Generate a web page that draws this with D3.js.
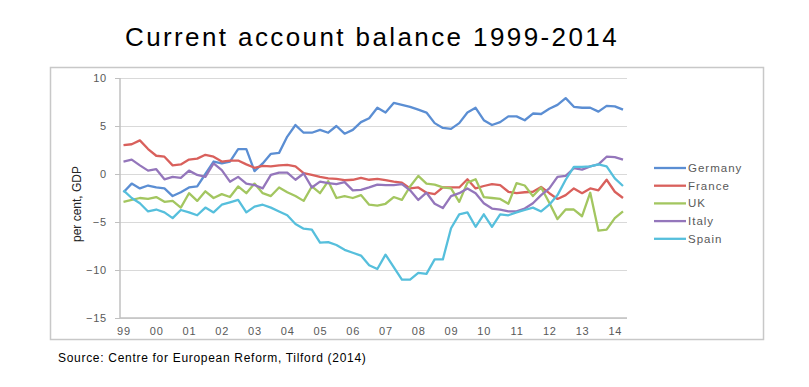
<!DOCTYPE html>
<html lang="en">
<head>
    <meta charset="UTF-8">
    <title>Current account balance 1999-2014</title>
    <style>
        body {
            margin: 0;
            padding: 0;
            background: #fff;
        }

        svg text {
            font-family: "Liberation Sans", Arial, sans-serif;
        }

        .grid line {
            stroke: #d9d9d9;
            stroke-width: 1;
        }

        .grid .domain {
            display: none;
        }

        .axis text {
            fill: #595959;
            font-size: 11px;
            letter-spacing: 0.8px;
        }

        .axis .domain {
            display: none;
        }

        .series {
            fill: none;
            stroke-width: 2.3;
            stroke-linejoin: round;
        }
    </style>
</head>
<body>
    <script src="https://d3js.org/d3.v7.min.js"></script>
    <script>
        // year labels on the x axis, data is quarterly 1999Q1 - 2014Q2
        const years = ["99", "00", "01", "02", "03", "04", "05", "06", "07", "08", "09", "10", "11", "12", "13", "14"];
        const quarters = [];
        years.forEach(yr => ["Q1", "Q2", "Q3", "Q4"].forEach(q => quarters.push(yr + q)));
        quarters.splice(62); // stops at 14Q2

        const yTicks = [-15, -10, -5, 0, 5, 10];

        // per cent of GDP
        const germany = [-1.9, -1.0, -1.5, -1.2, -1.4, -1.5, -2.3, -1.9, -1.4, -1.3,
            0.0, 1.3, 1.1, 1.3, 2.6, 2.6, 0.3, 1.1, 2.1, 2.2,
            3.9, 5.1, 4.3, 4.3, 4.6, 4.3, 5.0, 4.2, 4.6, 5.4,
            5.8, 6.9, 6.4, 7.4, 7.2, 7.0, 6.7, 6.4, 5.3, 4.8,
            4.7, 5.3, 6.4, 6.9, 5.6, 5.1, 5.4, 6.0, 6.0, 5.6,
            6.3, 6.25, 6.8, 7.2, 7.9, 7.0, 6.9, 6.9, 6.5, 7.1,
            7.05, 6.7];
        const france = [3.0, 3.1, 3.5, 2.6, 1.9, 1.8, 0.9, 1.0, 1.5, 1.6,
            2.0, 1.8, 1.3, 1.4, 1.4, 1.0, 0.65, 0.85, 0.8, 0.9,
            0.95, 0.8, 0.1, -0.1, -0.3, -0.45, -0.5, -0.65, -0.6, -0.4,
            -0.6, -0.5, -0.65, -0.8, -0.9, -1.5, -1.4, -1.95, -2.1, -1.4,
            -1.4, -1.4, -0.55, -1.5, -1.25, -1.05, -1.15, -1.85, -2.0, -1.9,
            -1.85, -1.35, -2.0, -2.6, -2.2, -1.5, -2.0, -1.5, -1.7, -0.6,
            -1.85, -2.5];
        const uk = [-2.9, -2.7, -2.5, -2.6, -2.4, -2.9, -2.8, -3.5, -2.0, -2.8,
            -1.8, -2.5, -2.1, -2.4, -1.3, -2.0, -1.0, -2.0, -2.3, -1.4,
            -1.9, -2.3, -2.8, -1.3, -2.0, -0.75, -2.5, -2.3, -2.5, -2.2,
            -3.2, -3.3, -3.1, -2.4, -2.7, -1.3, -0.2, -1.0, -1.1, -1.4,
            -1.5, -2.9, -0.9, -0.55, -2.4, -2.5, -2.6, -3.1, -0.95, -1.2,
            -2.3, -1.4, -3.0, -4.7, -3.7, -3.7, -4.4, -1.95, -5.9, -5.8,
            -4.6, -3.9];
        const italy = [1.3, 1.5, 0.9, 0.35, 0.5, -0.55, -0.3, -0.4, 0.35, -0.1,
            -0.3, 1.1, 0.4, -0.8, -0.3, -1.0, -1.15, -1.5, -0.1, 0.15,
            0.15, -0.6, 0.05, -1.4, -0.8, -0.95, -1.05, -0.85, -1.7, -1.65,
            -1.4, -1.1, -1.15, -1.15, -1.05, -1.7, -2.7, -1.95, -3.1, -3.55,
            -2.3, -2.0, -1.5, -2.0, -3.05, -3.6, -3.7, -3.9, -3.9, -3.6,
            -3.05, -2.2, -1.5, -0.3, -0.2, 0.6, 0.45, 0.8, 1.0, 1.8,
            1.75, 1.5];
        const spain = [-1.7, -2.5, -3.05, -3.9, -3.7, -4.0, -4.6, -3.75, -4.0, -4.3,
            -3.5, -4.0, -3.2, -2.95, -2.7, -4.0, -3.4, -3.2, -3.5, -3.9,
            -4.3, -5.2, -5.7, -5.8, -7.15, -7.1, -7.4, -7.9, -8.2, -8.5,
            -9.5, -9.9, -8.4, -9.7, -11.0, -11.0, -10.3, -10.4, -8.9, -8.9,
            -5.65, -4.2, -4.0, -5.5, -4.2, -5.5, -4.2, -4.3, -4.0, -3.75,
            -3.5, -3.9, -3.2, -2.2, -0.6, 0.75, 0.75, 0.8, 1.0, 0.8,
            -0.45, -1.25];

        const seriesNames = ["Germany", "France", "UK", "Italy", "Spain"];
        const seriesValues = [germany, france, uk, italy, spain];
        const colors = ["#5b8ed3", "#d9605c", "#a3c660", "#9476bb", "#56bfdc"];

        const W = 809, H = 387;
        const plot = { left: 120, right: 627, top: 78, bottom: 318 };

        const svg = d3.select("body").append("svg")
            .attr("width", W)
            .attr("height", H);

        svg.append("rect")
            .attr("width", W)
            .attr("height", H)
            .attr("fill", "#fff");

        // title
        svg.append("text")
            .attr("x", 372)
            .attr("y", 46)
            .attr("text-anchor", "middle")
            .style("font-size", "26px")
            .style("letter-spacing", "2.4px")
            .attr("fill", "#000")
            .text("Current account balance 1999-2014");

        // chart frame
        svg.append("rect")
            .attr("x", 50.5)
            .attr("y", 67.5)
            .attr("width", 713)
            .attr("height", 272)
            .attr("fill", "none")
            .attr("stroke", "#c8c8c8")
            .attr("stroke-width", 1.5);

        const x = d3.scalePoint()
            .domain(quarters)
            .range([123.5, 623]);

        const y = d3.scaleLinear()
            .domain([-15, 10])
            .range([plot.bottom, plot.top]);

        // gridlines
        svg.append("g")
            .attr("class", "grid")
            .attr("transform", "translate(" + plot.left + ",0)")
            .call(d3.axisRight(y).tickValues(yTicks).tickSize(plot.right - plot.left).tickFormat(""));

        // axis lines
        svg.append("line")
            .attr("x1", plot.left).attr("x2", plot.left)
            .attr("y1", plot.top).attr("y2", plot.bottom)
            .attr("stroke", "#c0c0c0").attr("stroke-width", 1.5);
        svg.append("line")
            .attr("x1", plot.left).attr("x2", plot.right)
            .attr("y1", plot.bottom).attr("y2", plot.bottom)
            .attr("stroke", "#c0c0c0").attr("stroke-width", 1.5);

        // y axis labels + small ticks
        const yAxis = svg.append("g")
            .attr("class", "axis")
            .attr("transform", "translate(" + plot.left + ",0)")
            .call(d3.axisLeft(y).tickValues(yTicks).tickSize(5).tickPadding(8));
        yAxis.selectAll("line").attr("stroke", "#c0c0c0");

        // x axis labels, one per year at Q1
        svg.append("g")
            .attr("class", "axis")
            .attr("transform", "translate(0," + plot.bottom + ")")
            .call(d3.axisBottom(x)
                .tickValues(quarters.filter(q => q.endsWith("Q1")))
                .tickFormat(q => q.slice(0, 2))
                .tickSize(0)
                .tickPadding(9));

        // y axis title
        svg.append("text")
            .attr("transform", "translate(81,204) rotate(-90)")
            .attr("text-anchor", "middle")
            .style("font-size", "12px")
            .attr("fill", "#262626")
            .text("per cent, GDP");

        // lines
        const line = d3.line()
            .x((d, i) => x(quarters[i]))
            .y(d => y(d));

        svg.selectAll(".series")
            .data(seriesValues)
            .enter().append("path")
            .attr("class", "series")
            .attr("stroke", (d, i) => colors[i])
            .attr("d", line);

        // legend
        const legend = svg.append("g")
            .attr("transform", "translate(654,168)");

        const items = legend.selectAll("g")
            .data(seriesNames)
            .enter().append("g")
            .attr("transform", (d, i) => "translate(0," + i * 17.7 + ")");

        items.append("line")
            .attr("x1", 0).attr("x2", 32)
            .attr("stroke", (d, i) => colors[i])
            .attr("stroke-width", 2.3);

        items.append("text")
            .attr("x", 34)
            .attr("dy", "0.35em")
            .style("font-size", "11.5px")
            .style("letter-spacing", "1px")
            .attr("fill", "#595959")
            .text(d => d);

        // source note
        svg.append("text")
            .attr("x", 58)
            .attr("y", 362)
            .style("font-size", "12px")
            .style("letter-spacing", "0.7px")
            .attr("fill", "#000")
            .text("Source: Centre for European Reform, Tilford (2014)");
    </script>
</body>
</html>
